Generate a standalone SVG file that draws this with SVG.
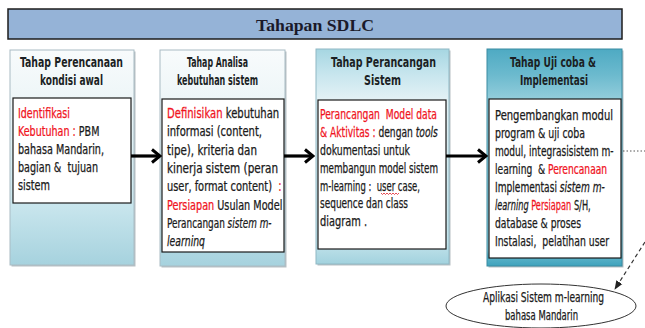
<svg xmlns="http://www.w3.org/2000/svg" width="645" height="328" viewBox="0 0 645 328">
<defs>
<linearGradient id="g1" x1="0" y1="0" x2="0" y2="1">
<stop offset="0" stop-color="#f8fbfc"/><stop offset="0.22" stop-color="#eef6f8"/><stop offset="0.7" stop-color="#cbe7ee"/><stop offset="1" stop-color="#a6d2de"/>
</linearGradient>
<linearGradient id="g3" x1="0" y1="0" x2="0" y2="1">
<stop offset="0" stop-color="#a6d6e2"/><stop offset="0.12" stop-color="#c8e6ee"/><stop offset="0.23" stop-color="#e2f1f5"/><stop offset="0.9" stop-color="#c3e3eb"/><stop offset="1" stop-color="#a2d2de"/>
</linearGradient>
<linearGradient id="g4" x1="0" y1="0" x2="0" y2="1">
<stop offset="0" stop-color="#4eaac3"/><stop offset="0.12" stop-color="#6cbace"/><stop offset="0.23" stop-color="#93cddb"/><stop offset="0.93" stop-color="#8ccad9"/><stop offset="0.95" stop-color="#62b5ca"/><stop offset="1" stop-color="#3fa3bd"/>
</linearGradient>
<marker id="chev" markerUnits="userSpaceOnUse" viewBox="0 0 12 16" refX="10" refY="8" markerWidth="12" markerHeight="16" orient="auto">
<path d="M2,1.5 L10,8 L2,14.5" fill="none" stroke="#000" stroke-width="3"/>
</marker>
<marker id="tri" markerUnits="userSpaceOnUse" viewBox="0 0 10 10" refX="9" refY="5" markerWidth="9" markerHeight="9" orient="auto">
<path d="M0,1 L10,5 L0,9 Z" fill="#222"/>
</marker>
</defs>
<style>
.hd{font-family:"Liberation Sans Narrow","DejaVu Sans Condensed","Liberation Sans",sans-serif;font-weight:bold;font-size:13.5px;fill:#1b1f24}
.tx{font-family:"Liberation Sans Narrow","DejaVu Sans Condensed","Liberation Sans",sans-serif;font-size:13.5px;fill:#1a1a1a;stroke:#1a1a1a;stroke-width:0.25}
.r{fill:#f0141e;stroke:#f0141e}
.i{font-style:italic}
.inner{fill:#fff;stroke:#1a1a1a;stroke-width:1.2}
.shadow{fill:#7d8d93;opacity:0.55}
.arrow{stroke:#000;stroke-width:3.2;fill:none;marker-end:url(#chev)}
</style>

<g id="title">
<rect x="8" y="9" width="614" height="30" fill="#95b3d7" stroke="#1c1c1c" stroke-width="1.5"/>
<text x="315" y="31" text-anchor="middle" textLength="118" lengthAdjust="spacingAndGlyphs" font-family="'Liberation Serif',serif" font-weight="bold" font-size="17" fill="#1a1a2a">Tahapan SDLC</text>
</g>

<g id="col1">
<rect class="shadow" x="11.5" y="51.5" width="124" height="215"/>
<rect x="10" y="50" width="124" height="215" fill="url(#g1)" stroke="#a9bcc4" stroke-width="1"/>
<text class="hd" x="20" y="67" textLength="103" lengthAdjust="spacingAndGlyphs">Tahap Perencanaan</text>
<text class="hd" x="40" y="85" textLength="63" lengthAdjust="spacingAndGlyphs">kondisi awal</text>
<rect class="inner" x="13" y="98" width="118" height="105"/>
<text class="tx r" x="18" y="118" textLength="52" lengthAdjust="spacingAndGlyphs">Identifikasi</text>
<text class="tx" transform="translate(18 136) scale(0.788 1)"><tspan class="r">Kebutuhan :</tspan> PBM</text>
<text class="tx" x="18" y="154" textLength="86" lengthAdjust="spacingAndGlyphs">bahasa Mandarin,</text>
<text class="tx" x="18" y="172" textLength="80" lengthAdjust="spacingAndGlyphs" xml:space="preserve">bagian &amp;  tujuan</text>
<text class="tx" x="18" y="190" textLength="32" lengthAdjust="spacingAndGlyphs">sistem</text>
</g>

<g id="col2">
<rect class="shadow" x="161.5" y="51.5" width="125" height="216"/>
<rect x="160" y="50" width="125" height="216" fill="url(#g1)" stroke="#a9bcc4" stroke-width="1"/>
<text class="hd" x="187" y="67" textLength="61" lengthAdjust="spacingAndGlyphs">Tahap Analisa</text>
<text class="hd" x="177" y="85" textLength="81" lengthAdjust="spacingAndGlyphs">kebutuhan sistem</text>
<rect class="inner" x="162" y="99" width="122" height="153"/>
<text class="tx" transform="translate(167 118) scale(0.827 1)"><tspan class="r">Definisikan</tspan> kebutuhan</text>
<text class="tx" x="167" y="136" textLength="95" lengthAdjust="spacingAndGlyphs">informasi (content,</text>
<text class="tx" x="167" y="154.5" textLength="90" lengthAdjust="spacingAndGlyphs">tipe), kriteria dan</text>
<text class="tx" x="167" y="173" textLength="111" lengthAdjust="spacingAndGlyphs">kinerja sistem (peran</text>
<text class="tx" transform="translate(167 191) scale(0.81 1)" xml:space="preserve">user, format content)  <tspan class="r">:</tspan></text>
<text class="tx" transform="translate(167 209.5) scale(0.797 1)"><tspan class="r">Persiapan</tspan> Usulan Model</text>
<text class="tx" transform="translate(167 228) scale(0.731 1)">Perancangan <tspan class="i">sistem m-</tspan></text>
<text class="tx i" x="167" y="246" textLength="38" lengthAdjust="spacingAndGlyphs">learninq</text>
</g>

<g id="col3">
<rect class="shadow" x="317.5" y="50.5" width="133" height="215"/>
<rect x="316" y="49" width="133" height="215" fill="url(#g3)" stroke="#8fb8c4" stroke-width="1"/>
<text class="hd" x="331" y="67" textLength="105" lengthAdjust="spacingAndGlyphs">Tahap Perancangan</text>
<text class="hd" x="364" y="85" textLength="37" lengthAdjust="spacingAndGlyphs">Sistem</text>
<rect class="inner" x="318" y="100" width="128" height="149"/>
<text class="tx r" x="320" y="119" textLength="117" lengthAdjust="spacingAndGlyphs" xml:space="preserve">Perancangan  Model data</text>
<text class="tx" transform="translate(320 137) scale(0.753 1)"><tspan class="r">&amp; Aktivitas :</tspan> dengan <tspan class="i">tools</tspan></text>
<text class="tx" x="320" y="155" textLength="90" lengthAdjust="spacingAndGlyphs">dokumentasi untuk</text>
<text class="tx" x="320" y="172.5" textLength="118" lengthAdjust="spacingAndGlyphs">membangun model sistem</text>
<text class="tx" x="320" y="190.5" textLength="100" lengthAdjust="spacingAndGlyphs" xml:space="preserve">m-learning :  user case,</text>
<path d="M381,193 l1.5,1.5 l1.5,-1.5 l1.5,1.5 l1.5,-1.5 l1.5,1.5 l1.5,-1.5 l1.5,1.5 l1.5,-1.5 l1.5,1.5 l1.5,-1.5 l1.5,1.5 l1.5,-1.5" fill="none" stroke="#e0202a" stroke-width="0.8"/>
<text class="tx" x="320" y="208" textLength="88" lengthAdjust="spacingAndGlyphs">sequence dan class</text>
<text class="tx" x="320" y="226" textLength="47" lengthAdjust="spacingAndGlyphs">diagram .</text>
</g>

<g id="col4">
<rect class="shadow" x="488.5" y="50.5" width="135" height="217"/>
<rect x="487" y="49" width="135" height="217" fill="url(#g4)" stroke="#3b8ca2" stroke-width="1"/>
<text class="hd" x="510" y="67" textLength="86" lengthAdjust="spacingAndGlyphs" xml:space="preserve">Tahap Uji coba &amp;</text>
<text class="hd" x="520" y="85" textLength="68" lengthAdjust="spacingAndGlyphs">Implementasi</text>
<rect class="inner" x="489" y="99" width="132" height="159"/>
<text class="tx" x="495" y="120" textLength="118" lengthAdjust="spacingAndGlyphs">Pengembangkan modul</text>
<text class="tx" x="495" y="138" textLength="90" lengthAdjust="spacingAndGlyphs">program &amp; uji coba</text>
<text class="tx" transform="translate(495 156) scale(0.746 1)">modul, integrasisistem m-</text>
<text class="tx" transform="translate(495 174) scale(0.752 1)" xml:space="preserve">learning  &amp; <tspan class="r">Perencanaan</tspan></text>
<text class="tx" transform="translate(495 192) scale(0.748 1)">Implementasi <tspan class="i">sistem m-</tspan></text>
<text class="tx" transform="translate(495 210) scale(0.676 1)"><tspan class="i">learning</tspan> <tspan class="r">Persiapan</tspan> S/H,</text>
<text class="tx" x="495" y="228" textLength="86" lengthAdjust="spacingAndGlyphs">database &amp; proses</text>
<text class="tx" x="495" y="245.5" textLength="114" lengthAdjust="spacingAndGlyphs" xml:space="preserve">Instalasi,  pelatihan user</text>
</g>

<g id="result">
<ellipse cx="541" cy="306" rx="95" ry="22" fill="#fff" stroke="#333" stroke-width="1"/>
<text class="tx" x="483" y="302" textLength="121" lengthAdjust="spacingAndGlyphs">Aplikasi Sistem m-learning</text>
<text class="tx" x="505" y="320" textLength="73" lengthAdjust="spacingAndGlyphs">bahasa Mandarin</text>
</g>

<g id="connectors">
<line class="arrow" x1="131" y1="156" x2="160" y2="156"/>
<line class="arrow" x1="284" y1="156" x2="313" y2="156"/>
<line class="arrow" x1="446" y1="156" x2="486" y2="156"/>
<line x1="623" y1="151" x2="645" y2="151" stroke="#555" stroke-width="1" stroke-dasharray="1.5 2"/>
<line x1="645" y1="242" x2="615" y2="289" stroke="#333" stroke-width="1.2" stroke-dasharray="4 3" marker-end="url(#tri)"/>
</g>
</svg>
